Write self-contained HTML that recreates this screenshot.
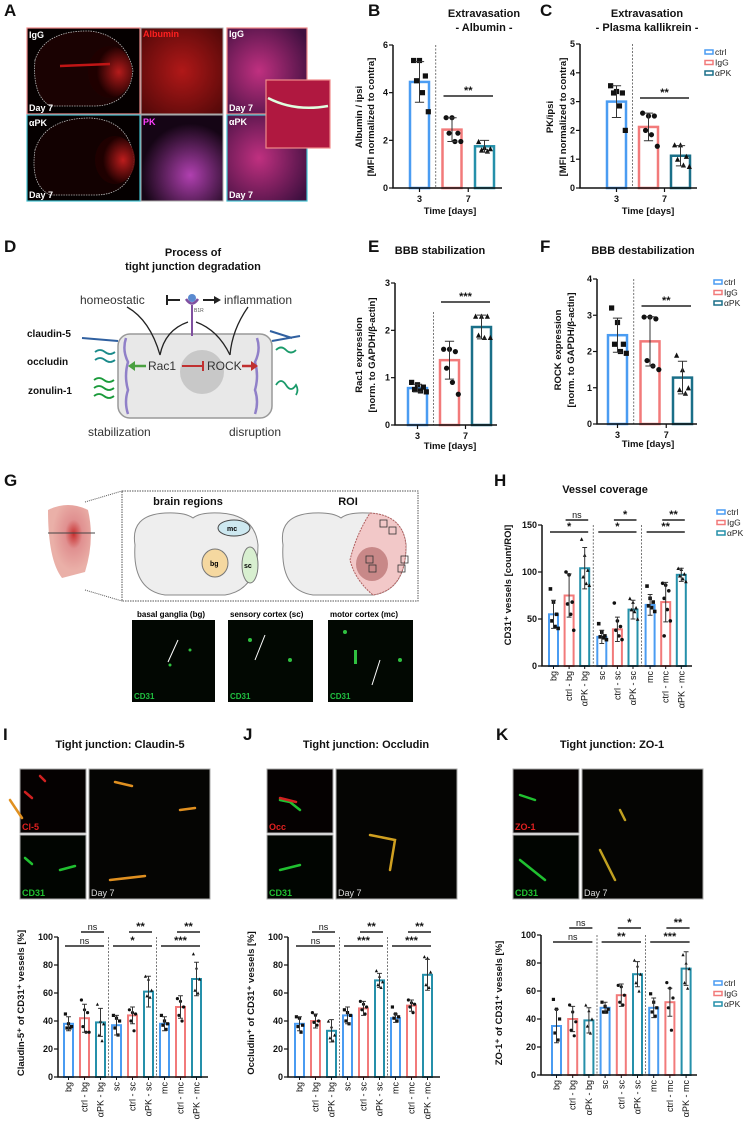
<!DOCTYPE html>
<html><head><meta charset="utf-8">
<style>
html,body{margin:0;padding:0;background:#fff;}
svg{display:block;font-family:"Liberation Sans",Arial,sans-serif;}
.pl{font-size:17px;font-weight:bold;fill:#111;}
.tt{font-size:11px;font-weight:bold;fill:#111;text-anchor:middle;}
.tk{font-size:9px;font-weight:bold;fill:#111;}
.al{font-size:9.5px;font-weight:bold;fill:#111;text-anchor:middle;}
.cl{font-size:9px;fill:#111;}
.lg{font-size:8.5px;fill:#222;}
.im{font-size:9px;font-weight:bold;}
</style></head>
<body>
<svg id="fig" width="744" height="1131" viewBox="0 0 744 1131" xmlns="http://www.w3.org/2000/svg">
<defs>
 <radialGradient id="rd1" cx="0.7" cy="0.5" r="0.5"><stop offset="0" stop-color="#d02020"/><stop offset="1" stop-color="#200000"/></radialGradient>
 <radialGradient id="rd2" cx="0.5" cy="0.5" r="0.7"><stop offset="0" stop-color="#b01818"/><stop offset="1" stop-color="#500808"/></radialGradient>
 <radialGradient id="mg" cx="0.6" cy="0.7" r="0.6"><stop offset="0" stop-color="#b040b0"/><stop offset="1" stop-color="#150515"/></radialGradient>
 <radialGradient id="mx" cx="0.4" cy="0.5" r="0.7"><stop offset="0" stop-color="#c03080"/><stop offset="1" stop-color="#401040"/></radialGradient>
 <radialGradient id="brn" cx="0.6" cy="0.4" r="0.5"><stop offset="0" stop-color="#c83030"/><stop offset="0.4" stop-color="#e09090"/><stop offset="1" stop-color="#eab0a8"/></radialGradient>
</defs>

<!-- Panel labels -->
<text class="pl" x="4" y="16">A</text>
<text class="pl" x="368" y="16">B</text>
<text class="pl" x="540" y="16">C</text>
<text class="pl" x="4" y="252">D</text>
<text class="pl" x="368" y="252">E</text>
<text class="pl" x="540" y="252">F</text>
<text class="pl" x="4" y="486">G</text>
<text class="pl" x="494" y="486">H</text>
<text class="pl" x="3" y="740">I</text>
<text class="pl" x="243" y="740">J</text>
<text class="pl" x="496" y="740">K</text>

<!-- Panel A images -->
<g>
 <rect x="27" y="28" width="113" height="86" fill="#050000" stroke="#f08a8a" stroke-width="1.2"/>
 <path d="M35,60 Q45,30 90,31 Q125,35 133,70 Q130,105 95,106 L50,106 Q32,95 35,60Z" fill="#1a0202" stroke="#bbb" stroke-dasharray="1.5,1" stroke-width="0.8"/>
 <ellipse cx="110" cy="72" rx="22" ry="26" fill="url(#rd1)" opacity="0.85"/>
 <path d="M60,66 L110,64" stroke="#c01515" stroke-width="2.5"/>
 <text class="im" x="29" y="38" fill="#fff">IgG</text><text class="im" x="29" y="111" fill="#fff">Day 7</text>
 <rect x="27" y="115" width="113" height="86" fill="#050000" stroke="#40c0d0" stroke-width="1.2"/>
 <path d="M35,150 Q45,118 90,118 Q130,120 134,160 Q130,195 95,195 L50,195 Q30,185 35,150Z" fill="#120101" stroke="#bbb" stroke-dasharray="1.5,1" stroke-width="0.8"/>
 <ellipse cx="115" cy="160" rx="20" ry="24" fill="url(#rd1)" opacity="0.9"/>
 <text class="im" x="29" y="126" fill="#fff">αPK</text><text class="im" x="29" y="198" fill="#fff">Day 7</text>
 <rect x="141" y="28" width="82" height="86" fill="url(#rd2)" stroke="#aaa" stroke-width="1"/>
 <text class="im" x="143" y="37" fill="#ff2020">Albumin</text>
 <rect x="141" y="115" width="82" height="86" fill="url(#mg)" stroke="#aaa" stroke-width="1"/>
 <text class="im" x="143" y="125" fill="#ff40ff">PK</text>
 <rect x="227" y="28" width="80" height="86" fill="url(#mx)" stroke="#f08a8a" stroke-width="1.2"/>
 <text class="im" x="229" y="37" fill="#fff">IgG</text><text class="im" x="229" y="111" fill="#fff">Day 7</text>
 <rect x="227" y="115" width="80" height="86" fill="url(#mx)" stroke="#40c0d0" stroke-width="1.2"/>
 <text class="im" x="229" y="125" fill="#fff">αPK</text><text class="im" x="229" y="198" fill="#fff">Day 7</text>
 <rect x="266" y="80" width="64" height="68" fill="#b01840" stroke="#f08a8a" stroke-width="1.2"/>
 <path d="M268,98 Q295,112 328,106" stroke="#e0ffe0" stroke-width="2.5" fill="none"/>
</g>

<!-- Panel D diagram -->
<g>
 <text class="tt" x="193" y="256">Process of</text>
 <text class="tt" x="193" y="270">tight junction degradation</text>
 <rect x="118" y="334" width="154" height="84" rx="12" fill="#e8e8e8" stroke="#999" stroke-width="1.5"/>
 <circle cx="202" cy="372" r="22" fill="#c8c8c8"/>
 <path d="M126,338 Q122,350 128,362 Q124,376 128,390 Q124,402 128,414" stroke="#9080c8" stroke-width="2.5" fill="none"/>
 <path d="M257,338 Q261,350 255,362 Q259,376 255,390 Q259,402 255,414" stroke="#9080c8" stroke-width="2.5" fill="none"/>
 <text x="80" y="304" font-size="12" fill="#333">homeostatic</text>
 <text x="224" y="304" font-size="12" fill="#333">inflammation</text>
 <path d="M167,300 L180,300 M167,295 L167,305" stroke="#222" stroke-width="2"/>
 <path d="M203,300 L214,300" stroke="#222" stroke-width="2"/><path d="M214,296 L221,300 L214,304Z" fill="#222"/>
 <circle cx="192" cy="298" r="4" fill="#5a8ad0"/><path d="M186,299 Q192,308 198,299" stroke="#8050a0" stroke-width="2.5" fill="none"/>
 <line x1="192" y1="305" x2="192" y2="336" stroke="#8050a0" stroke-width="2"/>
 <text x="194" y="312" font-size="5" fill="#555">B1R</text>
 <path d="M127,307 Q150,320 160,355 M188,322 Q165,330 160,355 M196,322 Q218,330 230,355 M248,307 Q232,330 230,355" stroke="#222" stroke-width="1.3" fill="none"/>
 <text x="148" y="370" font-size="12" fill="#333">Rac1</text>
 <text x="207" y="370" font-size="12" fill="#333">ROCK</text>
 <path d="M182,366 L203,366 M203,361 L203,371" stroke="#c03030" stroke-width="2"/>
 <path d="M146,366 L134,366" stroke="#4aa040" stroke-width="2.5"/><path d="M135,361 L128,366 L135,371Z" fill="#4aa040"/>
 <path d="M242,366 L252,366" stroke="#c03030" stroke-width="2.5"/><path d="M251,361 L258,366 L251,371Z" fill="#c03030"/>
 <path d="M82,338 L118,341" stroke="#3060a0" stroke-width="2"/>
 <path d="M270,331 L292,338 M272,341 L300,336" stroke="#3060a0" stroke-width="2"/>
 <path d="M95,352 q5,-4 10,0 q5,4 10,0 M95,360 q5,-4 10,0 q5,4 10,0" stroke="#1a8a8a" stroke-width="1.8" fill="none"/>
 <path d="M94,380 q5,-4 10,0 q5,4 10,0 M94,388 q5,-4 10,0 q5,4 10,0 M94,396 q5,-4 10,0 q5,4 10,0" stroke="#1a9a3a" stroke-width="1.8" fill="none"/>
 <path d="M276,350 q5,-5 10,0 q5,5 10,0 M276,385 q5,-8 10,0 q5,8 10,0 q3,5 0,10" stroke="#1a9a6a" stroke-width="1.8" fill="none"/>
 <text x="27" y="337" font-size="10" font-weight="bold" fill="#111">claudin-5</text>
 <text x="27" y="365" font-size="10" font-weight="bold" fill="#111">occludin</text>
 <text x="28" y="394" font-size="10" font-weight="bold" fill="#111">zonulin-1</text>
 <text x="88" y="436" font-size="12" fill="#333">stabilization</text>
 <text x="229" y="436" font-size="12" fill="#333">disruption</text>
</g>

<!-- Panel G -->
<g>
 <path d="M48,510 Q68,500 88,510 Q95,540 85,572 L62,578 Q48,560 48,510Z" fill="url(#brn)"/>
 <line x1="48" y1="533" x2="95" y2="533" stroke="#444" stroke-width="1"/>
 <path d="M85,502 L122,491 M85,590 L122,601" stroke="#555" stroke-dasharray="1,1"/>
 <rect x="122" y="491" width="296" height="110" fill="none" stroke="#555" stroke-dasharray="1.5,1"/>
 <text class="tt" x="188" y="505" font-size="10">brain regions</text>
 <text class="tt" x="348" y="505" font-size="10">ROI</text>
 <path d="M135,545 Q130,515 165,513 Q185,512 193,518 Q200,512 220,513 Q255,515 258,545 Q258,590 225,595 L165,595 Q132,590 135,545Z" fill="#eee" stroke="#888"/>
 <ellipse cx="234" cy="528" rx="16" ry="8" fill="#cde8f0" stroke="#444"/><text x="227" y="531" font-size="7" font-weight="bold">mc</text>
 <ellipse cx="215" cy="563" rx="13" ry="14" fill="#f5d8a0" stroke="#777"/><text x="210" y="566" font-size="7" font-weight="bold">bg</text>
 <ellipse cx="250" cy="565" rx="8" ry="18" fill="#d8efd0" stroke="#777"/><text x="244" y="568" font-size="7" font-weight="bold">sc</text>
 <path d="M283,545 Q278,515 313,513 Q333,512 341,518 Q348,512 368,513 Q403,515 406,545 Q406,590 373,595 L313,595 Q280,590 283,545Z" fill="#eee" stroke="#888"/>
 <path d="M370,513 Q403,515 406,545 Q406,590 373,595 Q355,580 350,560 Q356,535 370,513Z" fill="#f2c8c8" stroke="#b06060" stroke-dasharray="2,1"/>
 <ellipse cx="372" cy="564" rx="16" ry="17" fill="#c88888"/>
 <g fill="none" stroke="#333" stroke-width="0.8"><rect x="380" y="520" width="7" height="7"/><rect x="389" y="527" width="7" height="7"/><rect x="366" y="556" width="7" height="7"/><rect x="369" y="565" width="7" height="7"/><rect x="401" y="556" width="7" height="7"/><rect x="398" y="565" width="7" height="7"/></g>
 <text x="137" y="617" font-size="8" font-weight="bold">basal ganglia (bg)</text>
 <text x="230" y="617" font-size="8" font-weight="bold">sensory cortex (sc)</text>
 <text x="330" y="617" font-size="8" font-weight="bold">motor cortex (mc)</text>
 <rect x="132" y="620" width="83" height="82" fill="#020702"/><rect x="228" y="620" width="85" height="82" fill="#020802"/><rect x="328" y="620" width="85" height="82" fill="#020802"/>
 <g fill="#30c040"><circle cx="170" cy="665" r="1.5"/><circle cx="190" cy="650" r="1.5"/><circle cx="250" cy="640" r="2"/><circle cx="290" cy="660" r="2"/><circle cx="345" cy="632" r="2"/><rect x="354" y="650" width="3" height="14"/><circle cx="400" cy="660" r="2"/></g>
 <text x="134" y="699" font-size="8" font-weight="bold" fill="#20c040">CD31</text><text x="230" y="699" font-size="8" font-weight="bold" fill="#20c040">CD31</text><text x="330" y="699" font-size="8" font-weight="bold" fill="#20c040">CD31</text>
 <path d="M178,640 L168,662 M265,635 L255,660 M380,660 L372,685" stroke="#fff" stroke-width="1"/>
</g>

<!-- Panels I/J/K images -->
<g>
 <text class="tt" x="120" y="748">Tight junction: Claudin-5</text>
 <text class="tt" x="366" y="748">Tight junction: Occludin</text>
 <text class="tt" x="612" y="748">Tight junction: ZO-1</text>
 <rect x="20" y="769" width="66" height="64" fill="#050101" stroke="#aaa"/>
 <rect x="20" y="835" width="66" height="64" fill="#010501" stroke="#aaa"/>
 <rect x="89" y="769" width="121" height="130" fill="#050503" stroke="#aaa"/>
 <rect x="267" y="769" width="66" height="64" fill="#050101" stroke="#aaa"/>
 <rect x="267" y="835" width="66" height="64" fill="#010501" stroke="#aaa"/>
 <rect x="336" y="769" width="121" height="130" fill="#050503" stroke="#aaa"/>
 <rect x="513" y="769" width="66" height="64" fill="#050101" stroke="#aaa"/>
 <rect x="513" y="835" width="66" height="64" fill="#010501" stroke="#aaa"/>
 <rect x="582" y="769" width="121" height="130" fill="#050503" stroke="#aaa"/>
 <g stroke-width="2.5" fill="none" stroke-linecap="round">
  <path d="M25,792 L32,798 M40,776 L45,781" stroke="#d02020"/><path d="M25,858 L32,864 M60,870 L75,866" stroke="#20c030"/>
  <path d="M205,782 L222,786 M100,800 L112,818 M200,880 L235,876 M270,810 L285,808" stroke="#e09020" transform="translate(-90,0)"/>
  <path d="M280,800 L290,802 L300,810 M280,870 L300,865 M520,795 L535,800 M520,860 L545,880" stroke="#20c030"/>
  <path d="M280,798 L296,802" stroke="#d02020"/>
  <path d="M370,835 L395,840 L390,870" stroke="#d0a020"/><path d="M620,810 L625,820 M600,850 L615,880" stroke="#c0a020"/>
 </g>
 <g font-size="9" font-weight="bold">
  <text x="22" y="830" fill="#e02020">Cl-5</text><text x="22" y="896" fill="#20c030">CD31</text><text x="91" y="896" fill="#ddd" font-weight="normal">Day 7</text>
  <text x="269" y="830" fill="#e02020">Occ</text><text x="269" y="896" fill="#20c030">CD31</text><text x="338" y="896" fill="#ddd" font-weight="normal">Day 7</text>
  <text x="515" y="830" fill="#e02020">ZO-1</text><text x="515" y="896" fill="#20c030">CD31</text><text x="584" y="896" fill="#ddd" font-weight="normal">Day 7</text>
 </g>
</g>

<!-- Static chart titles and axis labels -->
<g>
 <text class="tt" x="484" y="17">Extravasation</text><text class="tt" x="484" y="31">- Albumin -</text>
 <text class="tt" x="647" y="17">Extravasation</text><text class="tt" x="647" y="31">- Plasma kallikrein -</text>
 <text class="tt" x="440" y="254">BBB stabilization</text>
 <text class="tt" x="643" y="254">BBB destabilization</text>
 <text class="tt" x="605" y="493">Vessel coverage</text>
 <text class="al" x="450" y="214">Time [days]</text><text class="al" x="648" y="214">Time [days]</text>
 <text class="al" x="450" y="449">Time [days]</text><text class="al" x="648" y="447">Time [days]</text>
 <text class="al" transform="translate(362,117) rotate(-90)">Albumin / ipsi</text>
 <text class="al" transform="translate(374,117) rotate(-90)">[MFI normalized to contra]</text>
 <text class="al" transform="translate(553,117) rotate(-90)">PK/ipsi</text>
 <text class="al" transform="translate(566,117) rotate(-90)">[MFI normalized to contra]</text>
 <text class="al" transform="translate(362,355) rotate(-90)">Rac1 expression</text>
 <text class="al" transform="translate(375,355) rotate(-90)">[norm. to GAPDH/β-actin]</text>
 <text class="al" transform="translate(561,350) rotate(-90)">ROCK expression</text>
 <text class="al" transform="translate(574,350) rotate(-90)">[norm. to GAPDH/β-actin]</text>
 <text class="al" transform="translate(511,585) rotate(-90)">CD31⁺ vessels [count/ROI]</text>
 <text class="al" transform="translate(24,1003) rotate(-90)">Claudin-5⁺ of CD31⁺ vessels [%]</text>
 <text class="al" transform="translate(254,1003) rotate(-90)">Occludin⁺ of CD31⁺ vessels  [%]</text>
 <text class="al" transform="translate(502,1003) rotate(-90)">ZO-1⁺ of CD31⁺ vessels  [%]</text>
</g>
<g id="charts"></g>
</svg>
<script>
// ---- data ----
var groups = ["ctrl","IgG","αPK"];
var daysCats = ["3","7"];
var regionCats = ["bg","ctrl - bg","αPK - bg","sc","ctrl - sc","αPK - sc","mc","ctrl - mc","αPK - mc"];

var bVals = [4.45, 2.45, 1.75];
var bErrs = [0.85, 0.5, 0.25];
var bPts = [[5.35,5.35,4.7,4.5,4.0,3.2],[2.95,2.95,2.3,2.3,1.95,1.95],[1.95,1.7,1.65,1.6,1.55]];
var bTicks = [0,2,4,6];

var cVals = [3.0, 2.12, 1.12];
var cErrs = [0.55, 0.48, 0.35];
var cPts = [[3.55,3.35,3.3,3.3,2.85,2.0],[2.6,2.5,2.5,2.0,1.85,1.45],[1.5,1.5,1.1,1.0,0.8,0.75]];
var cTicks = [0,1,2,3,4,5];

var eVals = [0.78, 1.37, 2.07];
var eErrs = [0.08, 0.4, 0.25];
var ePts = [[0.9,0.85,0.8,0.75,0.72,0.7],[1.6,1.6,1.55,1.2,0.9,0.65],[2.3,2.3,2.3,1.9,1.85,1.85]];
var eTicks = [0,1,2,3];

var fVals = [2.45, 2.28, 1.28];
var fErrs = [0.47, 0.68, 0.45];
var fPts = [[3.2,2.8,2.2,2.2,2.0,1.95],[2.95,2.95,2.9,1.75,1.6,1.5],[1.9,1.5,1.0,0.95,0.85]];
var fTicks = [0,1,2,3,4];

var hVals = [55,75,104,31,39,60,65,68,97];
var hErrs = [15,23,22,7,13,10,11,21,7];
var hPts = [[82,68,55,48,42,40],[100,97,68,66,55,38],[135,118,102,95,88,86],[45,36,32,31,30,28],[67,48,42,38,32,28],[72,68,62,60,58,50],[85,72,68,64,62,58],[88,86,80,72,60,48,32],[104,103,98,96,93,90]];
var hTicks = [0,50,100,150];

var iVals = [38,42,39,37,44,61,38,50,70];
var iErrs = [5,10,10,7,6,11,5,8,12];
var iPts = [[45,38,36,35,35],[55,48,46,36,32,32],[52,40,38,30,26],[44,42,40,35,30],[48,46,45,40,33],[72,70,62,58,57],[44,40,38,37,34],[56,54,50,44,40],[88,78,70,62,60]];
var jVals = [38,40,33,44,49,69,42,51,73];
var jErrs = [5,5,8,6,5,5,3,4,11];
var jPts = [[43,42,37,36,32],[46,44,40,39,37],[40,36,30,28,26],[48,46,44,40,38],[54,52,50,48,45],[76,72,68,66,64],[50,45,43,42,40],[55,53,52,50,46],[86,85,75,66,64]];
var kVals = [35,40,39,48,57,72,48,52,76];
var kErrs = [12,9,9,4,8,9,7,10,12];
var kPts = [[54,47,40,30,25],[50,45,38,32,28],[50,46,40,35,30],[52,49,47,45,45],[64,63,57,52,50],[82,78,72,66,60],[58,52,48,45,42],[66,62,55,48,32],[86,80,76,66,62]];
var pctTicks = [0,20,40,60,80,100];

var bSig = [[1,2,"**",0]];
var eSig = [[1,2,"***",0]];
var hSig = [[0,2,"*",0],[1,2,"ns",1],[3,5,"*",0],[4,5,"*",1],[6,8,"**",0],[7,8,"**",1]];
var iSig = [[0,2,"ns",0],[1,2,"ns",1],[3,5,"*",0],[4,5,"**",1],[6,8,"***",0],[7,8,"**",1]];
var jSig = [[0,2,"ns",0],[1,2,"ns",1],[3,5,"***",0],[4,5,"**",1],[6,8,"***",0],[7,8,"**",1]];
var kSig = [[0,2,"ns",0],[1,2,"ns",1],[3,5,"**",0],[4,5,"*",1],[6,8,"***",0],[7,8,"**",1]];

// ---- drawing ----
var NS = "http://www.w3.org/2000/svg";
var root = document.getElementById("charts");
var COLORS = ["#4a9cf2","#f27a7a","#2590aa"];
function mk(tag, attrs, parent){ var e=document.createElementNS(NS,tag); for(var k in attrs) e.setAttribute(k,attrs[k]); (parent||root).appendChild(e); return e; }

function drawChart(name, L, vals, errs, pts, ticks, cats, sigs){
  var g = mk("g",{});
  
  
  var n = vals.length;
  function y(v){ return L.yb - v/L.max*(L.yb-L.yt); }
  function bx(i){ return L.ax + L.off + i*L.pitch + Math.floor(i/3)*L.gap; }
  var teal = L.teal || COLORS[2];
  L.seps.forEach(function(s){
    var sx = (bx(s)+L.bw + bx(s+1))/2;
    var ln = mk("line",{x1:sx,x2:sx,y1:L.sepTop||L.yt,y2:L.yb,stroke:"#555","stroke-width":0.8,"stroke-dasharray":"2,1.5"},g);
    
    
  });
  for(var i=0;i<n;i++){
    var gi = i%3, col = gi==2?teal:COLORS[gi];
    var x = bx(i), cx = x+L.bw/2;
    var r = mk("rect",{x:x+1,y:y(vals[i]),width:L.bw-2,height:L.yb-y(vals[i]),fill:"#fff",stroke:col,"stroke-width":L.sw||2.5},g);
    
    
    pts[i].forEach(function(p,k){
      var px = cx + ((k%3)-1)*L.bw*0.28 + (k>=3?L.bw*0.14:0), py=y(p), s=L.ms;
      var m;
      if(gi==0) m = mk("rect",{x:px-s,y:py-s,width:2*s,height:2*s,fill:"#111"},g);
      else if(gi==1) m = mk("circle",{cx:px,cy:py,r:s,fill:"#111"},g);
      else m = mk("path",{d:"M"+(px-s)+","+(py+s)+"L"+px+","+(py-s)+"L"+(px+s)+","+(py+s)+"Z",fill:"#111"},g);
      
      
    });
    var e = mk("path",{d:"M"+cx+","+y(vals[i]-errs[i])+"V"+y(vals[i]+errs[i])+"M"+(cx-L.bw*0.22)+","+y(vals[i]+errs[i])+"h"+(L.bw*0.44)+"M"+(cx-L.bw*0.22)+","+y(vals[i]-errs[i])+"h"+(L.bw*0.44),stroke:"#333","stroke-width":1,fill:"none"},g);
    
    
  }
  var ax = mk("path",{d:"M"+L.ax+","+L.yt+"V"+L.yb+"H"+L.xend,stroke:"#111","stroke-width":1.5,fill:"none"},g);
  
  
  ticks.forEach(function(t){
    mk("line",{x1:L.ax-4,x2:L.ax,y1:y(t),y2:y(t),stroke:"#111","stroke-width":1.2},g);
    var tx = mk("text",{x:L.ax-5,y:y(t)+3,"text-anchor":"end","class":"tk"},g);
    tx.textContent = t;
    
    
  });
  if(cats.length==2){
    var c0 = bx(0)+L.bw/2, c1 = (bx(1)+bx(2)+L.bw)/2;
    [c0,c1].forEach(function(cx,k){
      mk("line",{x1:cx,x2:cx,y1:L.yb,y2:L.yb+4,stroke:"#111","stroke-width":1.2},g);
      var t = mk("text",{x:cx,y:L.yb+14,"text-anchor":"middle","class":"tk"},g);
      t.textContent = cats[k];
      
      
    });
  } else {
    cats.forEach(function(c,i){
      var cx = bx(i)+L.bw/2;
      mk("line",{x1:cx,x2:cx,y1:L.yb,y2:L.yb+3,stroke:"#111","stroke-width":1},g);
      var t = mk("text",{transform:"translate("+(cx+3)+","+(L.yb+5)+") rotate(-90)","text-anchor":"end","class":"cl"},g);
      t.textContent = c;
      
      
    });
  }
  sigs.forEach(function(s){
    var x1 = bx(s[0])+2, x2 = bx(s[1])+L.bw-2, sy = L.sigY[s[3]];
    var l = mk("line",{x1:x1,x2:x2,y1:sy,y2:sy,stroke:"#222","stroke-width":1.5},g);
    
    
    var t = mk("text",{x:(x1+x2)/2,y:sy-2,"text-anchor":"middle","font-size":s[2]=="ns"?9:11,"font-weight":s[2]=="ns"?"normal":"bold",fill:"#111"},g);
    t.textContent = s[2];
    
    
  });
  if(L.legend){
    groups.forEach(function(gname,k){
      var ly = L.legend[1]+k*10.5;
      var col = k==2?teal:COLORS[k];
      var r = mk("rect",{x:L.legend[0],y:ly-5,width:8,height:4,fill:"#fff",stroke:col,"stroke-width":1.5},g);
      
      
      var t = mk("text",{x:L.legend[0]+10,y:ly,"class":"lg"},g);
      t.textContent = gname;
      
      
    });
  }
}

drawChart("chart-b-albumin",{ax:393,yb:188,yt:45,max:6,off:16,pitch:32.5,gap:0,bw:21,xend:502,seps:[0],ms:2.6,sigY:[96]},bVals,bErrs,bPts,bTicks,daysCats,bSig);
drawChart("chart-c-plasma-kallikrein",{ax:580,yb:188,yt:44,max:5,off:26,pitch:32,gap:0,bw:21,xend:697,seps:[0],ms:2.6,sigY:[98],teal:"#1a6f88",legend:[705,55]},cVals,cErrs,cPts,cTicks,daysCats,bSig);
drawChart("chart-e-rac1",{ax:395,yb:425,yt:283,max:3,off:12,pitch:32,gap:0,bw:21,xend:497,seps:[0],sepTop:312,ms:2.6,sigY:[302],teal:"#1a6f88"},eVals,eErrs,ePts,eTicks,daysCats,eSig);
drawChart("chart-f-rock",{ax:597,yb:424,yt:279,max:4,off:10,pitch:32.5,gap:0,bw:21,xend:697,seps:[0],ms:2.6,sigY:[306],teal:"#1a6f88",legend:[714,285]},fVals,fErrs,fPts,fTicks,daysCats,bSig);
drawChart("chart-h-vessel-coverage",{ax:542,yb:666,yt:525,max:150,off:6,pitch:15.6,gap:1.5,bw:11,xend:692,seps:[2,5],ms:1.8,sw:2,sigY:[532,520],legend:[717,515]},hVals,hErrs,hPts,hTicks,regionCats,hSig);
drawChart("chart-i-claudin5",{ax:58,yb:1077,yt:937,max:100,off:5,pitch:16,gap:0,bw:11,xend:208,seps:[2,5],ms:1.6,sw:2,sigY:[946,932]},iVals,iErrs,iPts,pctTicks,regionCats,iSig);
drawChart("chart-j-occludin",{ax:288,yb:1077,yt:937,max:100,off:6,pitch:16,gap:0,bw:11,xend:440,seps:[2,5],ms:1.6,sw:2,sigY:[946,932]},jVals,jErrs,jPts,pctTicks,regionCats,jSig);
drawChart("chart-k-zo1",{ax:541,yb:1075,yt:935,max:100,off:10,pitch:16.2,gap:0,bw:11,xend:697,seps:[2,5],ms:1.6,sw:2,sigY:[942,928],legend:[714,986]},kVals,kErrs,kPts,pctTicks,regionCats,kSig);
</script>
</body></html>
